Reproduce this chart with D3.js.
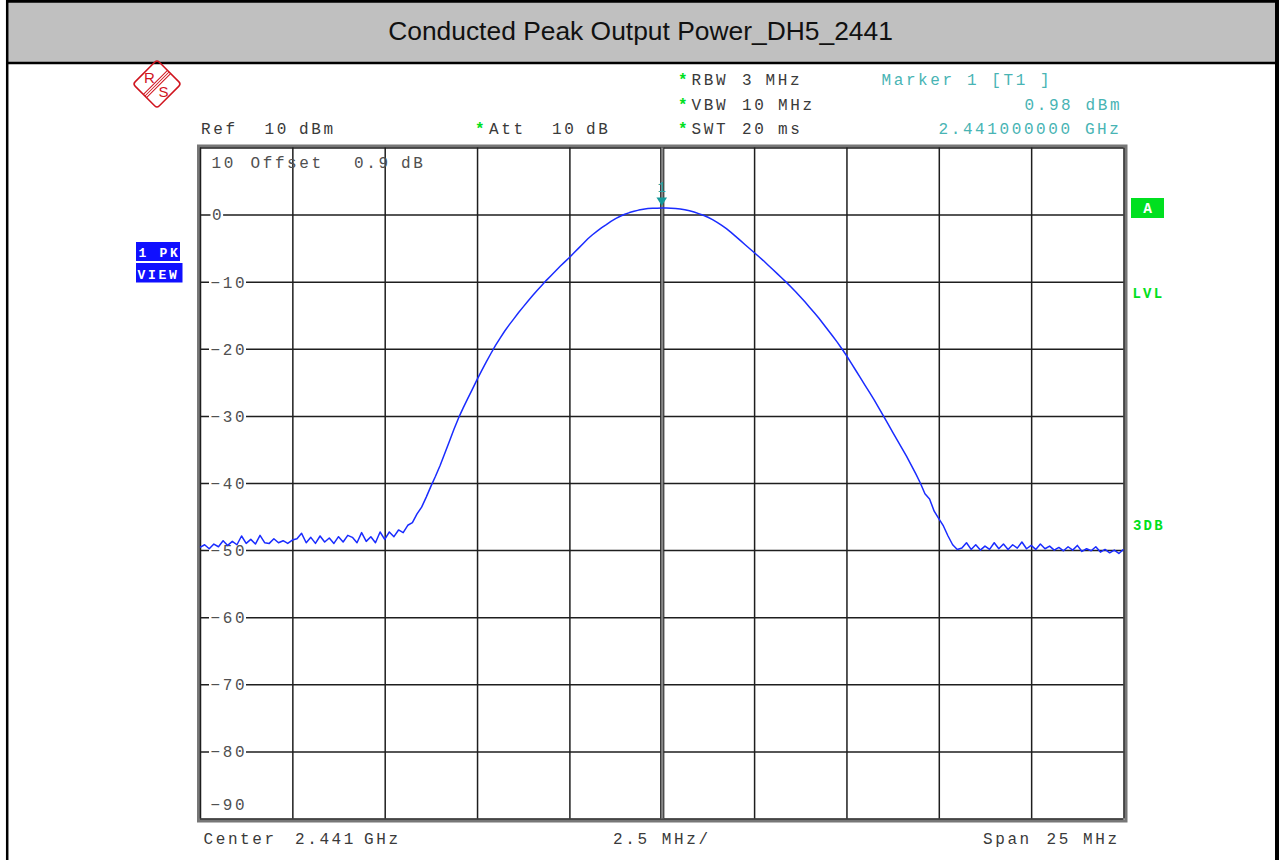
<!DOCTYPE html>
<html><head><meta charset="utf-8">
<script src="https://cdn.jsdelivr.net/npm/d3@7"></script>
<style>
html,body{margin:0;padding:0;background:#fff;}
svg{display:block;}
</style></head><body>
<svg id="c" width="1279" height="860"></svg>
<script>
// ---------------- data ----------------
const chartTitle = "Conducted Peak Output Power_DH5_2441";
const freqStartMHz = 2428.5, freqStopMHz = 2453.5, freqStepMHz = 0.125;
const freqGridMHz = [2428.5, 2431, 2433.5, 2436, 2438.5, 2441, 2443.5, 2446, 2448.5, 2451, 2453.5];
const levelTicks = [10, 0, -10, -20, -30, -40, -50, -60, -70, -80, -90];
const levelTickLabels = ["10", "0", "\u221210", "\u221220", "\u221230", "\u221240", "\u221250", "\u221260", "\u221270", "\u221280", "\u221290"];
const traceLevels = [
  -49.6,-49.2,-49.8,-49.1,-49.5,-48.6,-49.3,-48.7,-49.2,-47.9,
  -49.0,-48.4,-49.1,-47.8,-48.9,-49.0,-48.3,-48.9,-48.6,-49.0,
  -48.5,-48.3,-47.5,-48.9,-48.1,-49.0,-47.9,-48.8,-48.2,-49.0,
  -48.0,-48.8,-47.8,-48.1,-48.9,-47.4,-48.7,-48.0,-48.9,-47.3,
  -48.4,-47.3,-48.0,-47.0,-47.4,-46.3,-45.9,-44.6,-43.6,-42.1,
  -40.5,-39.0,-37.4,-35.6,-33.8,-32.0,-30.3,-28.8,-27.4,-26.0,
  -24.6,-23.25,-21.95,-20.7,-19.5,-18.4,-17.35,-16.4,-15.5,-14.6,
  -13.75,-12.9,-12.1,-11.3,-10.55,-9.8,-9.1,-8.4,-7.7,-7.05,
  -6.4,-5.7,-5.0,-4.3,-3.6,-3.0,-2.45,-1.95,-1.5,-1.0,
  -0.6,-0.25,0.05,0.3,0.5,0.67,0.8,0.9,0.95,0.96,
  0.98,0.97,0.95,0.92,0.85,0.72,0.57,0.38,0.15,-0.1,
  -0.4,-0.75,-1.15,-1.6,-2.1,-2.65,-3.25,-3.85,-4.45,-5.05,
  -5.65,-6.25,-6.85,-7.5,-8.15,-8.8,-9.45,-10.1,-10.8,-11.5,
  -12.25,-13.0,-13.8,-14.6,-15.4,-16.3,-17.2,-18.1,-19.0,-20.0,
  -21.0,-22.1,-23.2,-24.3,-25.4,-26.5,-27.6,-28.8,-30.0,-31.2,
  -32.4,-33.6,-34.8,-36.0,-37.3,-38.6,-40.0,-41.6,-42.4,-44.2,
  -45.3,-46.4,-47.9,-49.2,-49.9,-49.7,-48.9,-49.9,-49.2,-50.0,
  -49.4,-49.9,-48.9,-49.8,-49.1,-49.9,-49.2,-49.7,-48.8,-49.8,
  -49.3,-49.9,-49.1,-49.8,-49.4,-50.0,-49.6,-50.1,-49.5,-50.0,
  -49.3,-50.2,-49.8,-50.1,-49.5,-50.3,-49.9,-50.4,-50.0,-50.5,
  -49.9
];
const markerFreqMHz = 2441, markerLevel = 0.98, markerName = "1";
const refLabel = ["Ref", "10", "dBm"];
const attLabel = ["Att", "10", "dB"];
const settingLabels = [["RBW", "3", "MHz"], ["VBW", "10", "MHz"], ["SWT", "20", "ms"]];
const markerLabels = ["Marker 1 [T1 ]", "0.98 dBm", "2.441000000 GHz"];
const offsetLabel = ["Offset", "0.9", "dB"];
const bottomLabels = ["Center", "2.441", "GHz", "2.5 MHz/", "Span", "25", "MHz"];
const traceBoxLabels = ["1 PK", "VIEW"];
const rightLabels = ["A", "LVL", "3DB"];

// ---------------- drawing ----------------
const svg = d3.select("#c");
const MONO = '"Liberation Mono","DejaVu Sans Mono",monospace';
const SANS = '"Liberation Sans",Arial,sans-serif';
const GREEN = "#00e020", CYAN = "#48b4b4", TXT = "#3a3a3a";

function T(x, y, s, o = {}) {
  return svg.append("text").attr("x", x).attr("y", y).text(s)
    .attr("font-family", o.family || MONO)
    .attr("font-size", o.size || 16)
    .attr("font-weight", o.weight || "normal")
    .attr("fill", o.fill || TXT)
    .attr("text-anchor", o.anchor || "start")
    .style("letter-spacing", (o.ls === undefined ? 2.6 : o.ls) + "px")
    .style("white-space", "pre");
}

// page frame + title bar
svg.append("rect").attr("x", 8).attr("y", 2).attr("width", 1268).attr("height", 60).attr("fill", "#c0c0c0");
svg.append("line").attr("x1", 6).attr("x2", 1279).attr("y1", 1.3).attr("y2", 1.3).attr("stroke", "#000").attr("stroke-width", 2.7);
svg.append("line").attr("x1", 6).attr("x2", 1279).attr("y1", 63).attr("y2", 63).attr("stroke", "#000").attr("stroke-width", 2.6);
svg.append("line").attr("x1", 7.2).attr("x2", 7.2).attr("y1", 0).attr("y2", 860).attr("stroke", "#000").attr("stroke-width", 2.5);
svg.append("line").attr("x1", 1277).attr("x2", 1277).attr("y1", 0).attr("y2", 860).attr("stroke", "#000").attr("stroke-width", 4);
T(640.5, 40, chartTitle, {family: SANS, size: 26.4, fill: "#111", anchor: "middle", ls: 0});

// R&S logo
const RED = "#d0141e";
const logo = svg.append("g").attr("transform", "translate(157,84)");
const lr = logo.append("g").attr("transform", "rotate(45)");
lr.append("rect").attr("x", -17).attr("y", -17).attr("width", 34).attr("height", 34).attr("rx", 3)
  .attr("fill", "none").attr("stroke", RED).attr("stroke-width", 1.5);
[-2.2, 0, 2.2].forEach(dx => lr.append("line").attr("x1", dx).attr("x2", dx).attr("y1", -17).attr("y2", 17)
  .attr("stroke", RED).attr("stroke-width", 1));
T(149.5, 82.5, "R", {family: SANS, size: 15, fill: RED, anchor: "middle", ls: 0});
T(163.5, 97, "S", {family: SANS, size: 15, fill: RED, anchor: "middle", ls: 0});

// header texts
T(201, 133.5, refLabel[0]); T(264.5, 133.5, refLabel[1]); T(299, 133.5, refLabel[2]);
T(475, 133.5, "*", {fill: GREEN, weight: "bold", ls: 0});
T(489, 133.5, attLabel[0]); T(552, 133.5, attLabel[1]); T(586, 133.5, attLabel[2]);
const setY = [85, 109.5, 133.5], setX2 = [[742, 765.5], [742, 778], [742, 778]];
settingLabels.forEach((s, i) => {
  T(678, setY[i], "*", {fill: GREEN, weight: "bold", ls: 0});
  T(691.5, setY[i], s[0]); T(setX2[i][0], setY[i], s[1]); T(setX2[i][1], setY[i], s[2]);
});
T(881.5, 85, markerLabels[0], {fill: CYAN});
T(1024.5, 109.5, markerLabels[1], {fill: CYAN});
T(938.5, 133.5, markerLabels[2], {fill: CYAN});

// plot scales
const X0 = 200, X1 = 1123.5, Y0 = 147.5, Y1 = 818.5;
const x = d3.scaleLinear().domain([freqStartMHz, freqStopMHz]).range([X0, X1]);
const y = d3.scaleLinear().domain([-90, 10]).range([Y1, Y0]);

// outer gray frame
svg.append("rect").attr("x", X0 - 1.5).attr("y", Y0 - 1.5).attr("width", X1 - X0 + 4).attr("height", Y1 - Y0 + 4)
  .attr("fill", "none").attr("stroke", "#777").attr("stroke-width", 3);

// gridlines via axes
const gx = svg.append("g").attr("transform", `translate(0,${Y1})`)
  .call(d3.axisBottom(x).tickValues(freqGridMHz).tickSize(-(Y1 - Y0)).tickFormat(""));
gx.select(".domain").remove();
gx.selectAll(".tick line").attr("stroke", "#1e1e1e").attr("stroke-width", 1.5);
const gy = svg.append("g").attr("transform", `translate(${X0},0)`)
  .call(d3.axisLeft(y).tickValues(levelTicks).tickSize(-(X1 - X0)).tickFormat(""));
gy.select(".domain").remove();
gy.selectAll(".tick line").attr("stroke", "#1e1e1e").attr("stroke-width", 1.5);

// double centre line
const xc = x(markerFreqMHz) + 0.5;
svg.append("line").attr("x1", xc).attr("x2", xc).attr("y1", y(10)).attr("y2", y(-90)).attr("stroke", "#888").attr("stroke-width", 3.2);
[-1.6, 1.6].forEach(d => svg.append("line").attr("x1", xc + d).attr("x2", xc + d).attr("y1", y(10)).attr("y2", y(-90))
  .attr("stroke", "#222").attr("stroke-width", 1));

// y labels on the grid lines
levelTicks.forEach((v, i) => {
  if (v === 10 || v === -90) return;
  const t = T(v === 0 ? 212 : 210.5, y(v) + 5.8, levelTickLabels[i], {fill: "#505050"});
  const b = t.node().getBBox();
  svg.insert("rect", () => t.node()).attr("x", b.x - 1.5).attr("y", y(v) - 2).attr("width", b.width - 2.6 + 3).attr("height", 4).attr("fill", "#fff");
});
T(211.5, 167.7, levelTickLabels[0], {fill: "#505050"});
T(210.5, 810, levelTickLabels[10], {fill: "#505050"});
T(250.5, 167.7, offsetLabel[0], {fill: "#505050"});
T(354, 167.7, offsetLabel[1], {fill: "#505050"});
T(401, 167.7, offsetLabel[2], {fill: "#505050"});

// trace
const line = d3.line().x((d, i) => x(freqStartMHz + i * freqStepMHz)).y(d => y(d));
svg.append("path").datum(traceLevels).attr("d", line).attr("fill", "none")
  .attr("stroke", "#1a2cff").attr("stroke-width", 1.5).attr("stroke-linejoin", "round");

// marker
const mx = x(markerFreqMHz), my = y(markerLevel);
svg.append("path").attr("d", `M${mx - 5.3},${my - 10.5}L${mx + 5.3},${my - 10.5}L${mx},${my - 2.2}Z`).attr("fill", "#159a9a");
T(mx, my - 16.5, markerName, {fill: "#2aa5a5", size: 14, anchor: "middle", ls: 0});

// bottom labels
const by = 844;
T(203.5, by, bottomLabels[0]); T(295, by, bottomLabels[1]); T(364, by, bottomLabels[2]);
T(613, by, bottomLabels[3]);
T(983, by, bottomLabels[4]); T(1046.5, by, bottomLabels[5]); T(1083, by, bottomLabels[6]);

// trace info boxes (left)
const BLUE = "#1010ff";
svg.append("rect").attr("x", 136).attr("y", 242).attr("width", 44).attr("height", 19).attr("fill", BLUE);
svg.append("rect").attr("x", 136).attr("y", 263).attr("width", 46.5).attr("height", 19.5).attr("fill", BLUE);
T(138.5, 257, traceBoxLabels[0], {fill: "#fff", weight: "bold", size: 13, ls: 2.7});
T(137.5, 278.5, traceBoxLabels[1], {fill: "#fff", weight: "bold", size: 13, ls: 2.7});

// right side labels
svg.append("rect").attr("x", 1131).attr("y", 198).attr("width", 33).attr("height", 20).attr("fill", GREEN);
T(1147.5, 213, rightLabels[0], {fill: "#fff", weight: "bold", size: 14.5, anchor: "middle", ls: 0});
T(1132.5, 297.5, rightLabels[1], {fill: GREEN, weight: "bold", size: 14, ls: 2.2});
T(1133, 530, rightLabels[2], {fill: GREEN, weight: "bold", size: 14, ls: 2.2});
</script>
</body></html>
